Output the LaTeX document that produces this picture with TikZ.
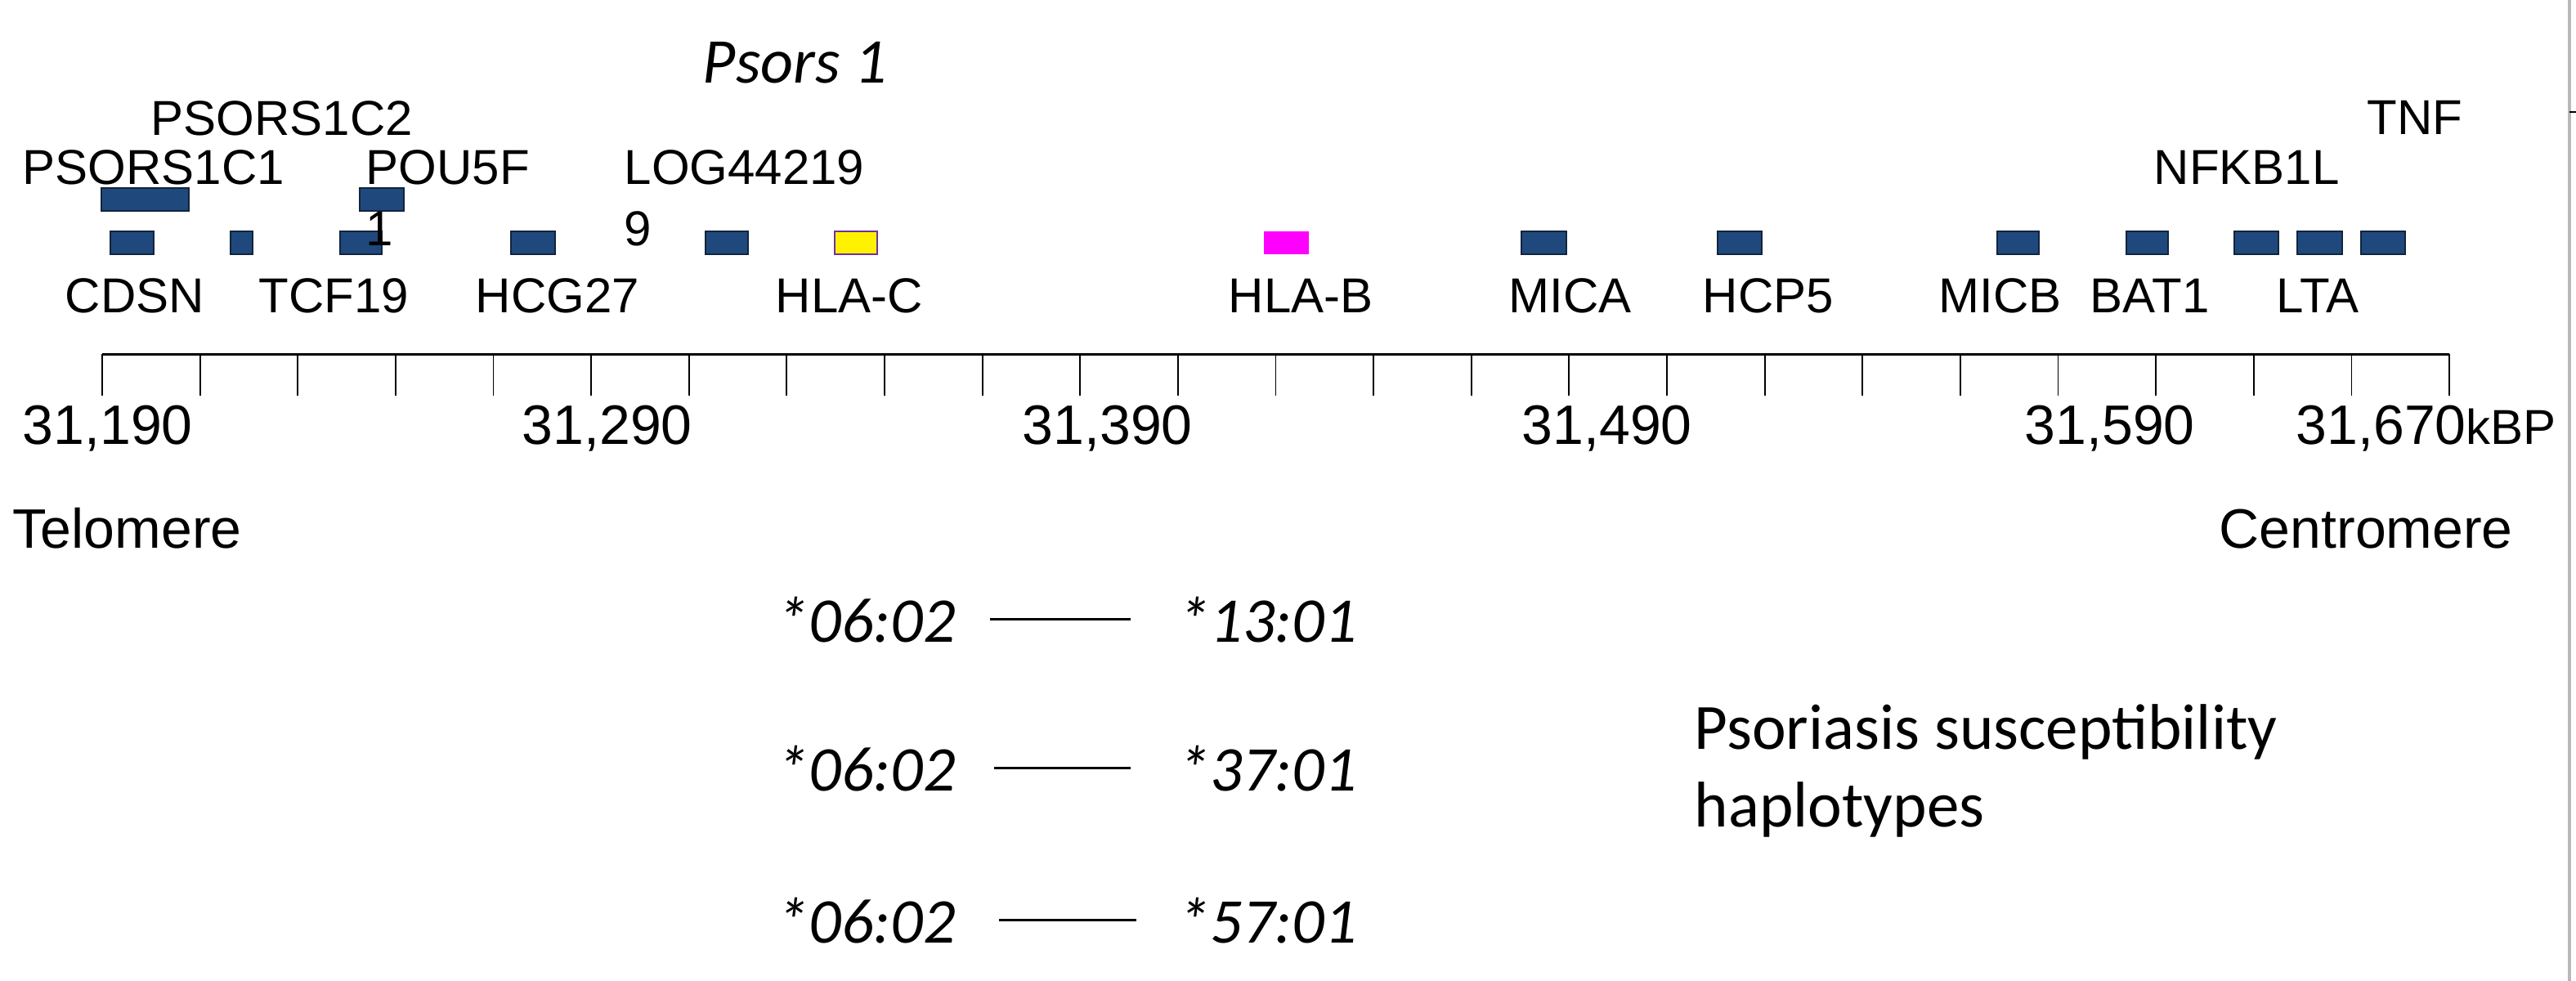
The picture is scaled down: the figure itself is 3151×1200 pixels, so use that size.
\documentclass[tikz,border=0pt]{standalone}
\usepackage{fontspec}
\setmainfont{Liberation Sans}
\newfontfamily\calibri{Carlito}
\definecolor{genefill}{RGB}{31,73,125}
\definecolor{geneline}{RGB}{18,36,60}
\definecolor{hlacline}{RGB}{112,48,160}
\definecolor{hlabfill}{RGB}{255,0,255}

\begin{document}
\begin{tikzpicture}[x=0.25pt,y=-0.25pt,line cap=butt,
  genebox/.style={draw=geneline,fill=genefill,line width=0.5pt,inner sep=0pt,minimum height=7pt},
  genelbl/.style={anchor=base west,inner sep=0pt,align=left,font=\fontsize{15}{18.75}\selectfont},
  kblbl/.style={anchor=base west,inner sep=0pt,font=\fontsize{17}{20}\selectfont},
  haplo/.style={anchor=base west,inner sep=0pt,font=\calibri\itshape\fontsize{19.5}{23}\selectfont},
  hapline/.style={line width=0.6pt}]
\useasboundingbox (0,0) rectangle (3151,1200);
% edge of the next window
\draw[gray!55,line width=0.8pt] (3143,0)--(3143,1200);
\draw[line width=0.4pt] (3143,137)--(3151,137);

\node[anchor=base west,inner sep=0pt,font=\calibri\itshape\fontsize{19.5}{23}\selectfont] (psors) at (859,101) {Psors 1};

% boxes
\node[genebox,minimum width=26.75pt] (psorsconebox) at (177.5,243.5) {};
\node[genebox,minimum width=13.5pt] (poubox) at (467,243.5) {};
\foreach \nm/\l/\r in {cdsnbox/135/188, psorsctwobox/282/309, tcfbox/416/467, hcgbox/625/679,
  locbox/863/915, micabox/1861/1916, hcpbox/2101/2155, micbbox/2443/2494, batbox/2601/2652,
  nfkbbox/2733/2787, ltabox/2810/2865, tnfbox/2888/2942}
  \node[genebox,minimum width=(\r-\l)*0.25pt] (\nm) at ({(\l+\r)/2},297) {};
\node[genebox,fill=yellow,draw=hlacline,minimum width=13pt] (hlacbox) at (1047,297) {};
\node[genebox,fill=hlabfill,draw=none,minimum width=13.75pt] (hlabbox) at (1573.5,297) {};

% genes above the boxes (base = last line)
\node[genelbl] (psorsctwo) at (184,165) {PSORS1C2};
\node[genelbl] (tnf) at (2895,164) {TNF};
\node[genelbl] (psorscone) at (27,225) {PSORS1C1};
\node[genelbl] (pou) at (447,300) {POU5F\\1};
\node[genelbl] (loc) at (763,300) {LOG44219\\9};
\node[genelbl] (nfkb) at (2634,225) {NFKB1L};

% genes below the boxes
\node[genelbl] (cdsn) at (79,382) {CDSN};
\node[genelbl] (tcf) at (316,382) {TCF19};
\node[genelbl] (hcg) at (581,382) {HCG27};
\node[genelbl] (hlac) at (948,382) {HLA-C};
\node[genelbl] (hlab) at (1502,382) {HLA-B};
\node[genelbl] (mica) at (1845,382) {MICA};
\node[genelbl] (hcp) at (2082,382) {HCP5};
\node[genelbl] (micb) at (2371,382) {MICB};
\node[genelbl] (bat) at (2556,382) {BAT1};
\node[genelbl] (lta) at (2784,382) {LTA};

% scale
\draw[line width=0.75pt] (125,433)--(2996,433);
\foreach \i in {0,...,24}
  \draw[line width=0.45pt] ({125+\i*119.625},433)--++(0,51);
\node[kblbl] (kb190) at (27,543) {31,190};
\node[kblbl] (kb290) at (638,543) {31,290};
\node[kblbl] (kb390) at (1250,543) {31,390};
\node[kblbl] (kb490) at (1861,543) {31,490};
\node[kblbl] (kb590) at (2476,543) {31,590};
\node[kblbl] (kb670) at (2808,543) {31,670{\fontsize{15}{18}\selectfont kBP}};
\node[kblbl] (tel) at (15,670) {Telomere};
\node[kblbl] (cen) at (2714,670) {Centromere};

% haplotypes
\node[haplo] (cone) at (950,785) {*06:02};
\node[haplo] (bone) at (1441,785) {*13:01};
\node[haplo] (ctwo) at (950,967) {*06:02};
\node[haplo] (btwo) at (1441,967) {*37:01};
\node[haplo] (cthree) at (950,1153) {*06:02};
\node[haplo] (bthree) at (1441,1153) {*57:01};
\draw[hapline,shorten <=10.5pt,shorten >=14.5pt] (cone)--(bone);
\draw[hapline,shorten <=11.75pt,shorten >=14.5pt] (ctwo)--(btwo);
\draw[hapline,shorten <=13.25pt,shorten >=12.75pt] (cthree)--(bthree);
\node[anchor=base west,inner sep=0pt,align=left,font=\calibri\fontsize{19.75}{23.75}\selectfont] (susc) at (2072,1011) {Psoriasis susceptibility\\haplotypes};
\end{tikzpicture}
\end{document}
